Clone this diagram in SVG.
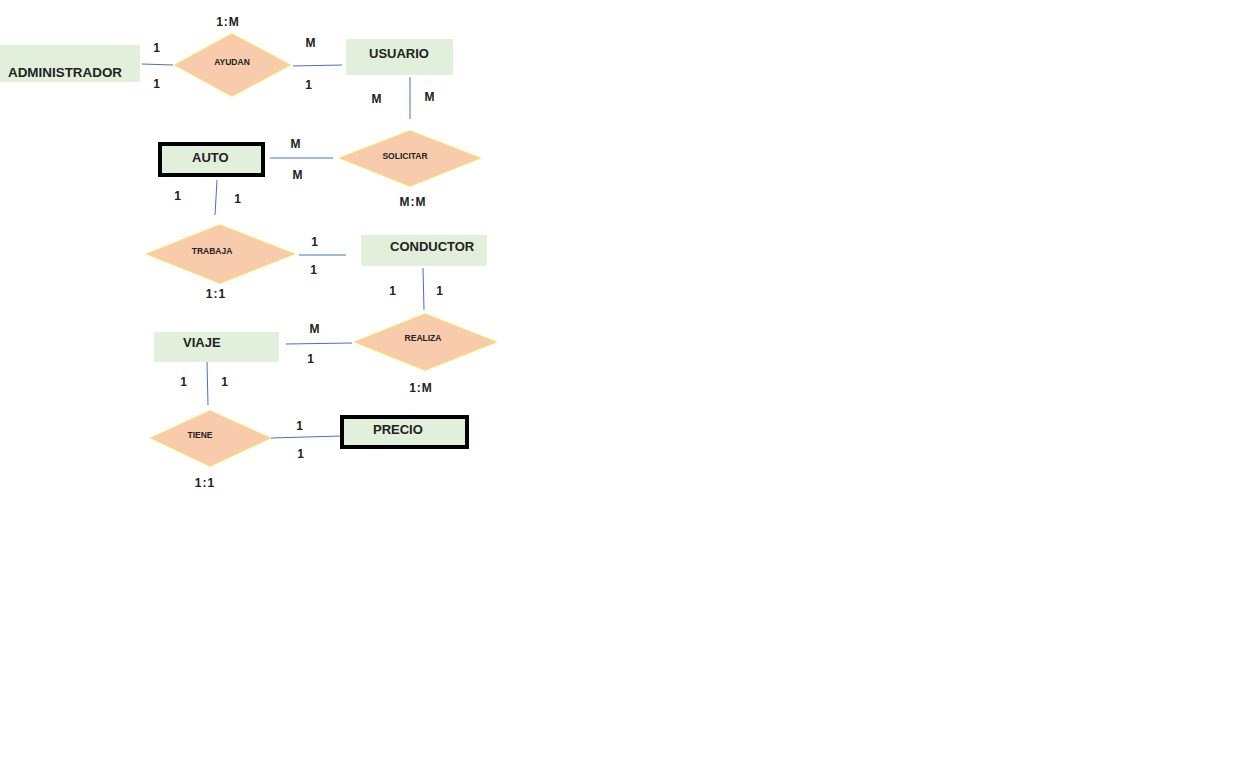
<svg xmlns="http://www.w3.org/2000/svg" width="1250" height="768" viewBox="0 0 1250 768">
<style>
.ent{fill:#e2efda;stroke:none}
.weak{fill:#e2efda;stroke:#000;stroke-width:4}
.rel{fill:#f8cbad;stroke:#ffd966;stroke-width:1.2}
.et{font-family:"Liberation Sans",Arial,sans-serif;font-weight:bold;font-size:13px;fill:#222}
.rt{font-family:"Liberation Sans",Arial,sans-serif;font-weight:bold;font-size:8.5px;fill:#222;text-anchor:middle}
.lb{font-family:"Liberation Sans",Arial,sans-serif;font-weight:bold;font-size:12px;letter-spacing:1px;fill:#222;text-anchor:middle}
.cn{stroke:#4472c4;stroke-width:1;fill:none}
</style>
<rect width="1250" height="768" fill="#fff"/>
<g id="connectors">
<line class="cn" x1="142" y1="64" x2="173" y2="65"/>
<line class="cn" x1="293" y1="66" x2="342" y2="65"/>
<line class="cn" x1="410" y1="77" x2="410" y2="119"/>
<line class="cn" x1="270" y1="158" x2="333" y2="158"/>
<line class="cn" x1="217" y1="180" x2="215" y2="215"/>
<line class="cn" x1="299" y1="255" x2="346" y2="255"/>
<line class="cn" x1="423" y1="268" x2="424" y2="310"/>
<line class="cn" x1="286" y1="344" x2="352" y2="343"/>
<line class="cn" x1="207" y1="362" x2="208" y2="405"/>
<line class="cn" x1="271" y1="438" x2="341" y2="436"/>
</g>
<g id="administrador">
<rect class="ent" x="0" y="45" width="140" height="37"/>
<text class="et" x="8" y="77" textLength="114" lengthAdjust="spacingAndGlyphs">ADMINISTRADOR</text>
</g>
<g id="ayudan">
<polygon class="rel" points="232,34 290,65 232,96 175,65"/>
<text class="rt" x="232" y="65">AYUDAN</text>
</g>
<g id="usuario">
<rect class="ent" x="346" y="39" width="107" height="36"/>
<text class="et" x="369" y="58">USUARIO</text>
</g>
<g id="solicitar">
<polygon class="rel" points="410,131 480,158 410,186 340,158"/>
<text class="rt" x="405" y="159">SOLICITAR</text>
</g>
<g id="auto">
<rect class="weak" x="160" y="144" width="103" height="31"/>
<text class="et" x="192" y="162">AUTO</text>
</g>
<g id="trabaja">
<polygon class="rel" points="220,225 294,254 220,283 147,254"/>
<text class="rt" x="212" y="254">TRABAJA</text>
</g>
<g id="conductor">
<rect class="ent" x="361" y="235" width="126" height="31"/>
<text class="et" x="390" y="251">CONDUCTOR</text>
</g>
<g id="realiza">
<polygon class="rel" points="425,314 496,342 425,370 355,342"/>
<text class="rt" x="423" y="341">REALIZA</text>
</g>
<g id="viaje">
<rect class="ent" x="154" y="332" width="125" height="30"/>
<text class="et" x="183" y="347">VIAJE</text>
</g>
<g id="tiene">
<polygon class="rel" points="210,411 270,438 210,466 151,438"/>
<text class="rt" x="200" y="438">TIENE</text>
</g>
<g id="precio">
<rect class="weak" x="342" y="417" width="125" height="30"/>
<text class="et" x="373" y="434">PRECIO</text>
</g>
<g id="labels">
<text class="lb" x="228" y="26">1:M</text>
<text class="lb" x="157" y="52">1</text>
<text class="lb" x="157" y="88">1</text>
<text class="lb" x="311" y="47">M</text>
<text class="lb" x="309" y="89">1</text>
<text class="lb" x="377" y="103">M</text>
<text class="lb" x="430" y="101">M</text>
<text class="lb" x="296" y="148">M</text>
<text class="lb" x="298" y="179">M</text>
<text class="lb" x="413" y="206">M:M</text>
<text class="lb" x="178" y="200">1</text>
<text class="lb" x="238" y="203">1</text>
<text class="lb" x="315" y="246">1</text>
<text class="lb" x="314" y="274">1</text>
<text class="lb" x="216" y="298">1:1</text>
<text class="lb" x="393" y="295">1</text>
<text class="lb" x="440" y="295">1</text>
<text class="lb" x="315" y="333">M</text>
<text class="lb" x="311" y="363">1</text>
<text class="lb" x="421" y="392">1:M</text>
<text class="lb" x="184" y="386">1</text>
<text class="lb" x="225" y="386">1</text>
<text class="lb" x="300" y="430">1</text>
<text class="lb" x="301" y="458">1</text>
<text class="lb" x="205" y="487">1:1</text>
</g>
</svg>
